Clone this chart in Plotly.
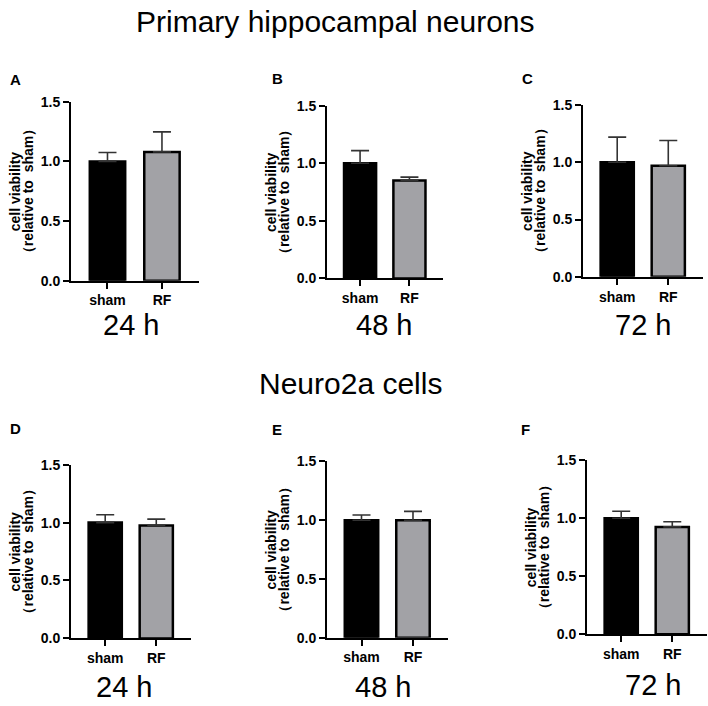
import plotly.graph_objects as go

W, H = 708, 706

categories = ["sham", "RF"]
panel_letters = ["A", "B", "C", "D", "E", "F"]
time_labels = ["24 h", "48 h", "72 h", "24 h", "48 h", "72 h"]

# mean values (relative to sham) per panel
sham_vals = [1.00, 1.00, 1.00, 1.00, 1.00, 1.00]
rf_vals = [1.08, 0.85, 0.97, 0.975, 1.00, 0.925]
# upper error (SD)
sham_err = [0.075, 0.11, 0.22, 0.068, 0.045, 0.06]
rf_err = [0.168, 0.03, 0.22, 0.055, 0.075, 0.045]

yticks = [0.0, 0.5, 1.0, 1.5]
row_titles = ["Primary hippocampal neurons", "Neuro2a cells"]

# panel boxes in pixels: x0, x1, ytop(1.5), ybottom(0)
boxes = [
    (71, 199, 96, 279),
    (327, 443, 100, 276.7),
    (583, 703, 99.3, 275),
    (71, 191, 467.3, 645),
    (327, 448, 464, 644.3),
    (587, 707, 462.7, 640.7),
]
letter_pos = [(15, 73), (277, 72), (527, 72), (15, 430), (277, 431), (525, 431)]
time_pos = [(131, 324), (384, 324), (643, 324), (124, 695), (383, 695), (653, 693)]

def px(x):
    return x / W

def py(y):
    return 1 - y / H

fig = go.Figure()
layout = dict(
    width=W, height=H, margin=dict(l=0, r=0, t=0, b=0),
    paper_bgcolor="white", plot_bgcolor="white", showlegend=False,
    font=dict(family="Liberation Sans, Arial, sans-serif", color="black"),
)
annotations = []
for i in range(6):
    n = "" if i == 0 else str(i + 1)
    xa, ya = "x" + n, "y" + n
    x0, x1, yt, yb = boxes[i]
    fig.add_trace(go.Bar(
        x=[0, 1], y=[sham_vals[i], rf_vals[i]], width=0.65,
        marker=dict(color=["#000000", "#a2a2a6"], line=dict(color="black", width=2.5)),
        error_y=dict(type="data", symmetric=False, array=[sham_err[i], rf_err[i]],
                     arrayminus=[0, 0], color="#333333", thickness=1.6, width=9),
        xaxis=xa, yaxis=ya,
    ))
    layout["xaxis" + n] = dict(
        domain=[px(x0), px(x1)], anchor=ya, range=[-0.67, 1.68],
        tickvals=[0, 1], ticktext=categories, showline=True, linecolor="black",
        linewidth=2, ticks="outside", ticklen=6, tickwidth=2, tickcolor="black",
        showgrid=False, zeroline=False, fixedrange=True,
        tickfont=dict(size=14, weight="bold", color="black"),
    )
    layout["yaxis" + n] = dict(
        domain=[py(yb), py(yt)], anchor=xa, range=[0, 1.5],
        tickvals=yticks, ticktext=["0.0", "0.5", "1.0", "1.5"], showline=True,
        linecolor="black", linewidth=2, ticks="outside", ticklen=6, tickwidth=2,
        tickcolor="black", showgrid=False, zeroline=False, fixedrange=True,
        tickfont=dict(size=14, weight="bold", color="black"),
    )
    ymid = (yt + yb) / 2
    annotations.append(dict(
        x=px(x0 - 56), y=py(ymid), xref="paper", yref="paper", text="cell viability",
        textangle=-90, showarrow=False, xanchor="center", yanchor="middle",
        font=dict(size=14, weight="bold", color="black")))
    annotations.append(dict(
        x=px(x0 - 43), y=py(ymid), xref="paper", yref="paper", text="（relative to  sham）",
        textangle=-90, showarrow=False, xanchor="center", yanchor="middle",
        font=dict(size=14, weight="bold", color="black")))
    lx, ly = letter_pos[i]
    annotations.append(dict(
        x=px(lx), y=py(ly), xref="paper", yref="paper", text=panel_letters[i],
        showarrow=False, xanchor="center", yanchor="middle",
        font=dict(size=15, weight="bold", color="black")))
    tx, ty = time_pos[i]
    annotations.append(dict(
        x=px(tx), y=py(ty), xref="paper", yref="paper", text=time_labels[i],
        showarrow=False, xanchor="center", yanchor="middle",
        font=dict(size=29, color="black")))

annotations.append(dict(x=px(335), y=py(14), xref="paper", yref="paper", text=row_titles[0],
                        showarrow=False, xanchor="center", yanchor="middle",
                        font=dict(size=30, color="black")))
annotations.append(dict(x=px(350), y=py(384), xref="paper", yref="paper", text=row_titles[1],
                        showarrow=False, xanchor="center", yanchor="middle",
                        font=dict(size=30, color="black")))
layout["annotations"] = annotations
fig.update_layout(**layout)
fig.write_html("out.html", post_script="document.body.style.margin='0';",
               config={"displayModeBar": False})
